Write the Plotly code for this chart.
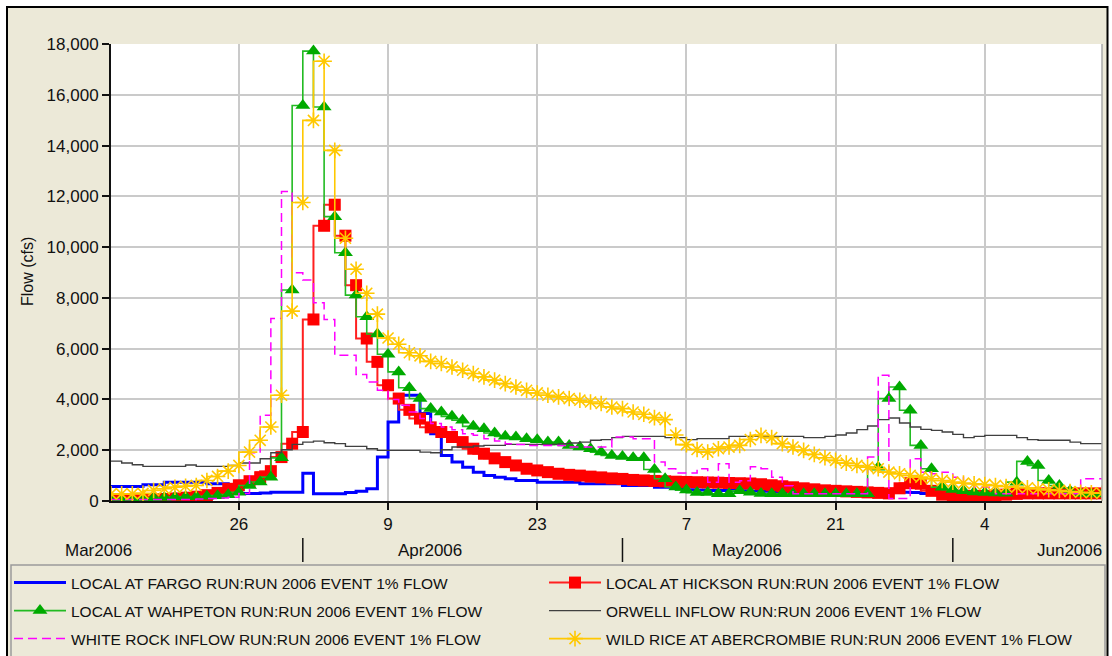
import plotly.graph_objects as go
import pandas as pd

# ---------------- data (daily values, cfs) ----------------
dates = pd.date_range("2006-03-14", periods=94, freq="D")

fargo = [572, 572, 572, 572, 640, 640, 742, 742, 742, 742, 680, 680, 415, 300, 300, 320, 340, 340, 340, 1090,
         283, 283, 283, 330, 380, 480, 1730, 3110, 4165, 4165, 3443, 2653, 1796, 1532, 1334, 1137, 1007, 940, 876, 810,
         810, 742, 742, 742, 742, 680, 680, 680, 680, 612, 612, 612, 545, 545, 480, 442, 430, 415, 415, 415,
         400, 390, 380, 370, 360, 350, 347, 347, 347, 347, 347, 347, 347, 347, 347, 347, 330, 300, 280, 260,
         250, 240, 230, 220, 210, 200, 200, 200, 190, 180, 180, 170, 170, 160]

hickson = [50, 50, 50, 60, 70, 80, 100, 130, 170, 230, 320, 480, 620, 780, 940, 1176, 1730, 2258, 2717, 7150,
           10840, 11670, 10450, 8500, 6400, 5480, 4560, 4035, 3590, 3245, 2900, 2717, 2520, 2320, 2060, 1862, 1680, 1532, 1400, 1270,
           1204, 1137, 1073, 1030, 1000, 960, 930, 890, 870, 830, 810, 790, 775, 760, 750, 740, 730, 720, 710, 700,
           690, 660, 620, 580, 540, 500, 460, 420, 400, 380, 360, 340, 320, 300, 500, 700, 680, 400, 250, 220,
           200, 200, 200, 220, 250, 280, 300, 300, 300, 300, 300, 300, 300, 300]

wahpeton = [80, 80, 80, 100, 120, 140, 160, 170, 180, 190, 210, 250, 347, 610, 750, 940, 1700, 8310, 15575, 17720,
            15520, 11200, 9780, 8110, 7255, 6575, 5780, 5085, 4460, 4035, 3640, 3505, 3335, 3178, 2940, 2850, 2677, 2546, 2520, 2455,
            2416, 2320, 2320, 2190, 2125, 2060, 1927, 1796, 1757, 1705, 1700, 1240, 876, 550, 430, 330, 330, 283, 283, 400,
            347, 300, 283, 283, 283, 283, 283, 283, 283, 283, 283, 283, 1330, 4035, 4490, 3573, 2190, 1270, 545, 450,
            400, 350, 330, 320, 310, 742, 1560, 1400, 810, 612, 400, 300, 280, 280]

orwell = [1571, 1571, 1494, 1428, 1362, 1362, 1362, 1362, 1420, 1362, 1362, 1362, 1400, 1494, 1494, 1666, 1900, 2020, 2230, 2320,
          2360, 2297, 2258, 2150, 2150, 2060, 1993, 1993, 1993, 1993, 1927, 1900, 2020, 2125, 2125, 2165, 2190, 2190, 2230, 2230,
          2230, 2230, 2230, 2258, 2282, 2320, 2390, 2416, 2495, 2546, 2546, 2546, 2546, 2495, 2495, 2416, 2455, 2455, 2455, 2546,
          2546, 2546, 2546, 2546, 2546, 2546, 2495, 2495, 2546, 2600, 2677, 2810, 2953, 3205, 3270, 3073, 2914, 2820, 2780, 2717,
          2625, 2495, 2546, 2586, 2586, 2586, 2495, 2416, 2390, 2390, 2390, 2320, 2258, 2258]

white_rock = [60, 60, 60, 60, 60, 60, 60, 60, 60, 80, 100, 120, 150, 300, 1900, 3375, 7190, 12190, 8990, 8700,
              7810, 7150, 5745, 5745, 4980, 4690, 4360, 4000, 3770, 3505, 3245, 3048, 2914, 2810, 2653, 2586, 2455, 2360, 2258, 2230,
              2190, 2190, 2190, 2190, 2125, 2125, 2125, 2125, 2520, 2520, 2455, 2455, 1532, 1270, 1100, 1100, 1270, 742, 1470, 742,
              800, 1350, 1270, 940, 600, 283, 283, 283, 283, 283, 283, 283, 1730, 4955, 100, 100, 1666, 1137, 1073, 1137,
              940, 680, 545, 545, 283, 283, 283, 283, 283, 283, 283, 283, 876, 876]

wild_rice = [280, 280, 280, 300, 415, 480, 540, 580, 612, 810, 967, 1176, 1400, 1927, 2390, 2914, 4165, 7480, 11760, 14990,
             17320, 13810, 10350, 9130, 8180, 7360, 6420, 6175, 5840, 5720, 5500, 5415, 5280, 5150, 5020, 4890, 4760, 4625, 4490, 4360,
             4255, 4165, 4100, 4035, 3970, 3900, 3840, 3700, 3640, 3505, 3415, 3285, 3205, 2600, 2220, 2030, 1927, 2060, 2125, 2190,
             2420, 2586, 2495, 2258, 2125, 1993, 1836, 1705, 1600, 1492, 1400, 1334, 1270, 1137, 1073, 1007, 940, 876, 810, 742,
             703, 679, 651, 612, 572, 545, 521, 482, 442, 415, 375, 347, 324, 308]

series_names = [
    "LOCAL AT FARGO RUN:RUN 2006 EVENT 1% FLOW",
    "LOCAL AT HICKSON RUN:RUN 2006 EVENT 1% FLOW",
    "LOCAL AT WAHPETON RUN:RUN 2006 EVENT 1% FLOW",
    "ORWELL INFLOW RUN:RUN 2006 EVENT 1% FLOW",
    "WHITE ROCK INFLOW RUN:RUN 2006 EVENT 1% FLOW",
    "WILD RICE AT ABERCROMBIE RUN:RUN 2006 EVENT 1% FLOW",
]

day_tick_dates = ["2006-03-26", "2006-04-09", "2006-04-23", "2006-05-07", "2006-05-21", "2006-06-04"]
day_tick_labels = ["26", "9", "23", "7", "21", "4"]
month_labels = ["Mar2006", "Apr2006", "May2006", "Jun2006"]
month_starts = ["2006-04-01", "2006-05-01", "2006-06-01"]
y_ticks = list(range(0, 18001, 2000))

# ---------------- layout helpers ----------------
W, H = 1112, 656
L, R, T, B = 111, 10, 44, 155
PW = W - L - R
PH = H - T - B
def px(x):
    return (x - L) / PW
def py(y):
    return (H - B - y) / PH

FONT = "Liberation Sans, Arial, sans-serif"
BEIGE = "#ECE9D8"
TXT = "#111111"

fig = go.Figure()

fig.add_trace(go.Scatter(x=dates, y=fargo, name=series_names[0], mode="lines",
                         line=dict(color="#0000FF", width=3, shape="vh"), legend="legend"))
fig.add_trace(go.Scatter(x=dates, y=hickson, name=series_names[1], mode="lines+markers",
                         line=dict(color="#FF2020", width=2, shape="vh"),
                         marker=dict(symbol="square", size=12, color="#FF0000"), legend="legend"))
fig.add_trace(go.Scatter(x=dates, y=wahpeton, name=series_names[2], mode="lines+markers",
                         line=dict(color="#22BB22", width=1.6, shape="vh"),
                         marker=dict(symbol="triangle-up", size=13, color="#00AA00"), legend="legend2"))
fig.add_trace(go.Scatter(x=dates, y=orwell, name=series_names[3], mode="lines",
                         line=dict(color="#404040", width=1.4, shape="vh"), legend="legend2"))
fig.add_trace(go.Scatter(x=dates, y=white_rock, name=series_names[4], mode="lines",
                         line=dict(color="#FF00FF", width=1.5, shape="vh", dash="9px,5px"), legend="legend3"))
fig.add_trace(go.Scatter(x=dates, y=wild_rice, name=series_names[5], mode="lines+markers",
                         line=dict(color="#FFC800", width=1.6, shape="vh"),
                         marker=dict(symbol="asterisk-open", size=13, color="#FFC800",
                                     line=dict(color="#FFC800", width=1.6)), legend="legend3"))

legend_common = dict(orientation="h", entrywidth=468, entrywidthmode="pixels",
                     bgcolor="rgba(0,0,0,0)", borderwidth=0, itemwidth=52,
                     font=dict(family=FONT, size=15.5, color=TXT),
                     xanchor="left", yanchor="middle", tracegroupgap=0)

shapes = []
# white outer strips and black frame
shapes.append(dict(type="rect", xref="paper", yref="paper", x0=px(0), x1=px(W), y0=py(0), y1=py(6),
                   fillcolor="white", line=dict(width=0), layer="above"))
shapes.append(dict(type="rect", xref="paper", yref="paper", x0=px(0), x1=px(6), y0=py(0), y1=py(H),
                   fillcolor="white", line=dict(width=0), layer="above"))
shapes.append(dict(type="rect", xref="paper", yref="paper", x0=px(1108), x1=px(W), y0=py(0), y1=py(H),
                   fillcolor="white", line=dict(width=0), layer="above"))
shapes.append(dict(type="rect", xref="paper", yref="paper", x0=px(7), x1=px(1107.5), y0=py(7), y1=py(H + 20),
                   fillcolor="rgba(0,0,0,0)", line=dict(color="black", width=2), layer="above"))
# legend box
shapes.append(dict(type="rect", xref="paper", yref="paper", x0=px(11), x1=px(1105), y0=py(565), y1=py(H + 20),
                   fillcolor="rgba(0,0,0,0)", line=dict(color="#9A9A9A", width=1.5), layer="above"))
# right border of plot
shapes.append(dict(type="line", xref="x domain", yref="y domain", x0=1, x1=1, y0=0, y1=1,
                   line=dict(color="#A8A8A8", width=1.5), layer="above"))
# month separators
for ms in month_starts:
    shapes.append(dict(type="line", xref="x", yref="paper", x0=ms, x1=ms, y0=py(538), y1=py(562),
                       line=dict(color=TXT, width=1.5), layer="above"))

month_x = [98, 430, 747, 1104]
month_anchor = ["center", "center", "center", "right"]
annotations = [
    dict(text="Flow (cfs)", x=px(27), y=py(272), xref="paper", yref="paper", showarrow=False,
         textangle=-90, font=dict(family=FONT, size=16, color=TXT), xanchor="center", yanchor="middle"),
]
for lab, mx, anc in zip(month_labels, month_x, month_anchor):
    annotations.append(dict(text=lab, x=px(mx), y=py(550), xref="paper", yref="paper", showarrow=False,
                            font=dict(family=FONT, size=17, color=TXT), xanchor=anc, yanchor="middle"))

fig.update_layout(
    width=W, height=H,
    margin=dict(l=L, r=R, t=T, b=B, pad=0, autoexpand=False),
    paper_bgcolor=BEIGE, plot_bgcolor="white",
    font=dict(family=FONT, size=17, color=TXT),
    showlegend=True,
    legend=dict(x=px(9), y=py(583), **legend_common),
    legend2=dict(x=px(9), y=py(611), **legend_common),
    legend3=dict(x=px(9), y=py(639), **legend_common),
    xaxis=dict(type="date", range=["2006-03-14", "2006-06-15"],
               tickvals=day_tick_dates, ticktext=day_tick_labels,
               ticks="outside", ticklen=7, tickwidth=1.5, tickcolor=TXT,
               showline=True, linecolor=TXT, linewidth=2,
               showgrid=True, gridcolor="#CACACA", gridwidth=2, zeroline=False,
               tickfont=dict(family=FONT, size=17, color=TXT), ticklabelstandoff=0),
    yaxis=dict(range=[0, 18000], tickvals=y_ticks, tickformat=",d",
               ticks="outside", ticklen=7, tickwidth=1.5, tickcolor=TXT,
               showline=True, linecolor=TXT, linewidth=2,
               showgrid=True, gridcolor="#CACACA", gridwidth=2, zeroline=False,
               tickfont=dict(family=FONT, size=17, color=TXT)),
    shapes=shapes,
    annotations=annotations,
)

fig.write_html("out.html")
